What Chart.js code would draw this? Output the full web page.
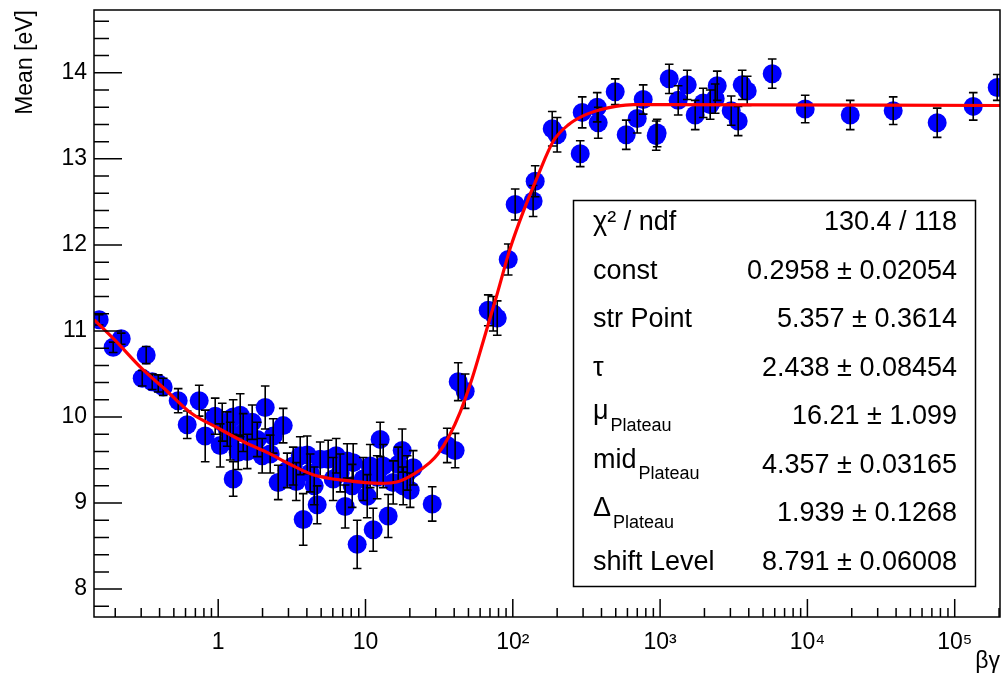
<!DOCTYPE html>
<html><head><meta charset="utf-8">
<script src="https://cdn.jsdelivr.net/npm/chart.js@4.4.1/dist/chart.umd.min.js"></script>
<style>html,body{margin:0;padding:0;background:#fff;}#wrap{width:1002px;height:675px;position:relative;}</style>
</head><body><div id="wrap"><canvas id="c" width="1002" height="675"></canvas></div>
<script>
const betaGamma = [
 0.1556,0.1937,0.2196,0.305,0.3245,0.3565,0.3917,0.4232,0.535,0.616,
 0.743,0.816,0.954,1.032,1.065,1.151,1.206,1.264,1.264,1.367,
 1.411,1.478,1.574,1.701,1.84,1.989,2.085,2.254,2.363,2.555,
 2.763,2.94,3.23,3.385,3.604,3.776,4.02,4.213,4.485,4.70,
 4.925,5.58,6.035,6.324,6.73,7.28,7.51,8.123,8.25,8.78,
 9.65,10.27,10.76,11.28,12.0,12.58,13.19,14.26,15.42,16.67,
 17.75,18.03,19.19,20.1,21.08,28.37,35.86,40.6,42.6,47.5,
 68.1,73.6,78.4,93.1,103.8,137.4,141.9,185.2,200,286.9,
 296,374,380,495.7,588.7,699.3,767.8,940.8,955,1153,
 1327,1528,1731,1962,2188,2366,2442,3039,3389,3608,
 3903,5768,9661,19530,38230,76030,133600,194400];
const meanValues = [
 11.13,10.81,10.91,10.45,10.72,10.41,10.39,10.35,10.19,9.91,
 10.19,9.78,10.01,9.67,9.94,9.86,9.72,10.0,9.28,9.59,
 10.02,9.82,9.6,9.94,9.74,9.55,10.11,9.57,9.78,9.24,
 9.9,9.38,9.43,9.25,9.55,8.81,9.56,9.35,9.2,8.98,
 9.51,9.51,9.28,9.55,9.35,8.96,9.49,9.2,9.47,8.52,
 9.28,9.08,9.43,8.69,9.3,9.74,9.43,8.85,9.24,9.45,
 9.61,9.2,9.35,9.15,9.41,8.99,9.67,9.61,10.41,10.3,
 11.24,11.2,11.15,11.83,12.47,12.51,12.74,13.35,13.28,13.06,
 13.54,13.6,13.42,13.78,13.28,13.47,13.69,13.27,13.3,13.93,
 13.68,13.86,13.51,13.65,13.63,13.7,13.85,13.56,13.44,13.86,
 13.79,13.99,13.58,13.51,13.56,13.42,13.61,13.83];
const meanErrors = [
 0.06,0.06,0.065,0.09,0.1,0.09,0.1,0.1,0.14,0.16,
 0.18,0.3,0.21,0.25,0.22,0.2,0.22,0.2,0.2,0.2,
 0.25,0.22,0.2,0.2,0.2,0.2,0.25,0.22,0.2,0.2,
 0.2,0.2,0.22,0.22,0.22,0.3,0.22,0.22,0.22,0.22,
 0.2,0.22,0.25,0.2,0.22,0.25,0.2,0.25,0.22,0.28,
 0.25,0.25,0.25,0.25,0.25,0.2,0.25,0.25,0.25,0.2,
 0.25,0.22,0.2,0.2,0.2,0.2,0.2,0.2,0.22,0.2,
 0.18,0.2,0.2,0.18,0.18,0.18,0.18,0.2,0.2,0.15,
 0.18,0.17,0.18,0.15,0.17,0.17,0.17,0.17,0.16,0.17,
 0.17,0.17,0.17,0.17,0.17,0.17,0.17,0.17,0.17,0.17,
 0.17,0.17,0.16,0.17,0.16,0.17,0.16,0.15];
const fitX = [0.144,0.2,0.3,0.45,0.65,1.0,1.5,2.2,3.0,4.4,7.5,12.7,16.3,21,27.3,31,37,44,53,63,78,96,118,146,189,240,300,392,500,657,1000,204000];
const fitY = [11.13,10.89,10.57,10.30,10.05,9.87,9.71,9.58,9.46,9.33,9.26,9.23,9.245,9.33,9.47,9.57,9.78,10.06,10.45,10.88,11.42,11.96,12.39,12.78,13.21,13.40,13.50,13.57,13.61,13.63,13.63,13.62];
const xMajorTicks = [1,10,100,1000,10000,100000];
const xTickLabels = ['1','10','10²','10³','10⁴','10⁵'];
const yMajorTicks = [8,9,10,11,12,13,14];
const statsNames = ['χ² / ndf','const','str Point','τ','μ','mid','Δ','shift Level'];
const statsSubs  = ['','','','','Plateau','Plateau','Plateau',''];
const statsValues = ['130.4 / 118','0.2958 ± 0.02054','5.357 ± 0.3614','2.438 ± 0.08454','16.21 ± 1.099','4.357 ± 0.03165','1.939 ± 0.1268','8.791 ± 0.06008'];

const FONT = '"Liberation Sans", Arial, Helvetica, sans-serif';
const X_MIN = 0.1435, X_MAX = 2.03e5, Y_MIN = 7.676, Y_MAX = 14.73;

const rootPlugin = {
  id: 'rootPlugin',
  afterDatasetDraw(chart, args) {
    if (args.index !== 0) return;
    const ctx = chart.ctx, xs = chart.scales.x, ys = chart.scales.y, a = chart.chartArea;
    ctx.save();
    ctx.beginPath(); ctx.rect(a.left, a.top, a.right - a.left, a.bottom - a.top); ctx.clip();
    ctx.strokeStyle = '#000'; ctx.lineWidth = 1.6;
    ctx.beginPath();
    for (let i = 0; i < betaGamma.length; i++) {
      const px = xs.getPixelForValue(betaGamma[i]);
      const y1 = ys.getPixelForValue(meanValues[i] + meanErrors[i]);
      const y2 = ys.getPixelForValue(meanValues[i] - meanErrors[i]);
      ctx.moveTo(px, y1); ctx.lineTo(px, y2);
      ctx.moveTo(px - 4.3, y1); ctx.lineTo(px + 4.3, y1);
      ctx.moveTo(px - 4.3, y2); ctx.lineTo(px + 4.3, y2);
    }
    ctx.stroke();
    ctx.restore();
  },
  afterDraw(chart) {
    const ctx = chart.ctx, xs = chart.scales.x, ys = chart.scales.y, a = chart.chartArea;
    ctx.save();
    ctx.strokeStyle = '#000'; ctx.lineWidth = 1.5;
    ctx.strokeRect(a.left, a.top, a.right - a.left, a.bottom - a.top);
    ctx.beginPath();
    for (let v = 7.8; v <= Y_MAX + 1e-9; v += 0.2) {
      const r = Math.round(v * 10) / 10;
      const py = ys.getPixelForValue(r);
      const major = Math.abs(r - Math.round(r)) < 1e-6;
      ctx.moveTo(a.left, py); ctx.lineTo(a.left + (major ? 28 : 15), py);
    }
    for (let e = -1; e <= 5; e++) {
      for (let k = 1; k <= 9; k++) {
        const v = k * Math.pow(10, e);
        if (v < X_MIN || v > X_MAX) continue;
        const px = xs.getPixelForValue(v);
        ctx.moveTo(px, a.bottom); ctx.lineTo(px, a.bottom - (k === 1 ? 18 : 9));
      }
    }
    ctx.stroke();
    const bx = 573.5, by = 200.5, bw = 402, bh = 386;
    ctx.fillStyle = '#fff';
    ctx.fillRect(bx, by, bw, bh);
    ctx.lineWidth = 1.5;
    ctx.strokeRect(bx, by, bw, bh);
    ctx.fillStyle = '#000';
    ctx.textBaseline = 'middle';
    for (let i = 0; i < statsNames.length; i++) {
      const cy = 223 + i * 48.5;
      ctx.font = '27px ' + FONT;
      ctx.textAlign = 'left';
      ctx.fillText(statsNames[i], 593, cy - (statsSubs[i] ? 5 : 0));
      if (statsSubs[i]) {
        const w = ctx.measureText(statsNames[i]).width;
        ctx.font = '18px ' + FONT;
        ctx.fillText(statsSubs[i], 593 + w + 2, cy + 9);
        ctx.font = '27px ' + FONT;
      }
      ctx.textAlign = 'right';
      ctx.fillText(statsValues[i], 957, cy);
    }
    ctx.restore();
  }
};

function zeroPad(s) { s.paddingTop = 0; s.paddingBottom = 0; s.paddingLeft = 0; s.paddingRight = 0; }

new Chart(document.getElementById('c'), {
  data: {
    datasets: [
      {
        type: 'scatter',
        data: betaGamma.map((x, i) => ({x: x, y: meanValues[i]})),
        pointRadius: 9.5, pointHoverRadius: 9.5,
        backgroundColor: '#0000ff', borderWidth: 0, pointBorderWidth: 0,
        order: 1
      },
      {
        type: 'line',
        data: fitX.map((x, i) => ({x: x, y: fitY[i]})),
        borderColor: '#ff0000', borderWidth: 3.2, pointRadius: 0,
        cubicInterpolationMode: 'monotone', fill: false,
        order: 0
      }
    ]
  },
  options: {
    responsive: false, animation: false,
    layout: {autoPadding: false, padding: {left: 0, top: 10, right: 2, bottom: 0}},
    plugins: {legend: {display: false}, tooltip: {enabled: false}},
    scales: {
      x: {
        type: 'logarithmic', position: 'bottom', min: X_MIN, max: X_MAX,
        grid: {display: false, drawTicks: false}, border: {display: false},
        afterBuildTicks: s => { s.ticks = xMajorTicks.map(v => ({value: v})); },
        ticks: {
          callback: (v, i) => xTickLabels[i],
          color: '#000', font: {family: FONT, size: 23}, padding: 12,
          maxRotation: 0, autoSkip: false
        },
        title: {display: true, text: 'βγ', align: 'end', color: '#000',
                font: {family: FONT, size: 23}, padding: {top: 0, bottom: 0}},
        afterFit: s => { s.height = 58; zeroPad(s); }
      },
      y: {
        type: 'linear', position: 'left', min: Y_MIN, max: Y_MAX,
        grid: {display: false, drawTicks: false}, border: {display: false},
        afterBuildTicks: s => { s.ticks = yMajorTicks.map(v => ({value: v})); },
        ticks: {
          callback: (v, i) => String(yMajorTicks[i]),
          color: '#000', font: {family: FONT, size: 23}, padding: 7
        },
        title: {display: true, text: 'Mean [eV]', align: 'end', color: '#000',
                font: {family: FONT, size: 23}, padding: {top: 12, bottom: 0}},
        afterFit: s => { s.width = 94; zeroPad(s); }
      }
    }
  },
  plugins: [rootPlugin]
});
</script></body></html>
